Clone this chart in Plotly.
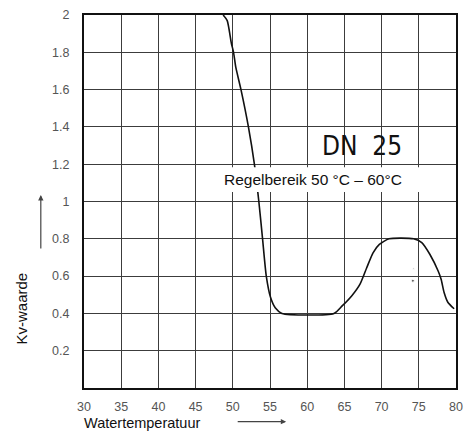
import plotly.graph_objects as go

# Data
temperature = [48.7, 49.25, 49.8, 50.1, 50.4, 51.1, 52.1, 52.9, 53.5, 54.0, 54.5,
               55.07, 55.7, 56.6, 63.6, 64.7, 66.0, 67.1, 68.0, 68.85, 69.7,
               71.0, 74.3, 75.4, 76.5, 77.6, 78.0, 78.4, 78.9, 79.75]
kv_value = [2.0, 1.97, 1.85, 1.8, 1.72, 1.6, 1.4, 1.2, 1.0, 0.8, 0.6,
            0.486, 0.43, 0.40, 0.40, 0.44, 0.495, 0.557, 0.645, 0.725, 0.77,
            0.80, 0.80, 0.78, 0.716, 0.627, 0.583, 0.512, 0.46, 0.425]

speck_x = [74.2, 74.3]
speck_y = [0.575, 0.64]

x_ticks = [30, 35, 40, 45, 50, 55, 60, 65, 70, 75, 80]
y_ticks = [0.2, 0.4, 0.6, 0.8, 1.0, 1.2, 1.4, 1.6, 1.8, 2.0]
y_tick_labels = ["0.2", "0.4", "0.6", "0.8", "1", "1.2", "1.4", "1.6", "1.8", "2"]

title_x = "Watertemperatuur"
title_y = "Kv-waarde"
label_dn = "DN\u00a0\u00a025"
label_range = "Regelbereik 50 °C – 60°C"

fig = go.Figure()
fig.add_trace(go.Scatter(
    x=temperature, y=kv_value, mode="lines",
    line=dict(color="#111111", width=1.6, shape="spline", smoothing=0.6),
    hoverinfo="skip", showlegend=False))
fig.add_trace(go.Scatter(
    x=speck_x, y=speck_y, mode="markers",
    marker=dict(color=["#222222", "#bbbbbb"], size=[3, 2]),
    hoverinfo="skip", showlegend=False))

W, H = 471, 431
L, R, T, B = 84, 8, 11, 43
pw = W - L - R
ph = H - T - B

def px(x):
    return (x - L) / pw

def py(y):
    return (H - B - y) / ph

fig.update_layout(
    width=W, height=H,
    margin=dict(l=L, r=R, t=T, b=B, pad=0),
    paper_bgcolor="white", plot_bgcolor="white",
    font=dict(family="Liberation Sans, Arial, sans-serif", color="#222222"),
    xaxis=dict(range=[30, 80], tickvals=x_ticks, showgrid=True,
               gridcolor="#3c3c3c", gridwidth=1.3, zeroline=False,
               showline=True, linecolor="#111111", linewidth=2, mirror=True,
               ticks="", ticklabelstandoff=6,
               tickfont=dict(size=12.5, color="#555555")),
    yaxis=dict(range=[0, 2], tickvals=y_ticks, ticktext=y_tick_labels,
               showgrid=True, gridcolor="#3c3c3c", gridwidth=1.3, zeroline=False,
               showline=True, linecolor="#111111", linewidth=2, mirror=True,
               ticks="", ticklabelstandoff=10,
               tickfont=dict(size=12.5, color="#555555")),
)

# white band behind the range label
fig.add_shape(type="rect", xref="paper", yref="paper",
              x0=px(222), x1=px(462), y0=py(190), y1=py(165),
              fillcolor="white", line=dict(width=0), layer="above")

fig.add_annotation(x=px(225), y=py(177.5), xref="paper", yref="paper",
                   text=label_range, showarrow=False, xanchor="left",
                   yanchor="middle",
                   font=dict(size=15.5, color="#111111",
                             family="Liberation Sans, Arial, sans-serif"))
fig.add_annotation(x=px(367.5), y=py(143), xref="paper", yref="paper",
                   text=label_dn, showarrow=False, xanchor="center",
                   yanchor="middle",
                   font=dict(size=26, color="#111111",
                             family="DejaVu Sans Condensed, Liberation Sans Narrow, sans-serif"))

# axis titles
fig.add_annotation(x=px(143.5), y=py(423), xref="paper", yref="paper",
                   text=title_x, showarrow=False, xanchor="center", yanchor="middle",
                   font=dict(size=14.5, color="#111111"))
fig.add_annotation(x=px(20), y=py(307.5), xref="paper", yref="paper",
                   text=title_y, showarrow=False, textangle=-90,
                   xanchor="center", yanchor="middle",
                   font=dict(size=15, color="#111111"))

# arrows
fig.add_annotation(x=px(40), y=py(193), xref="paper", yref="paper",
                   ax=0, ay=55, axref="pixel", ayref="pixel", text="",
                   showarrow=True, arrowhead=2, arrowsize=0.9, arrowwidth=1.2,
                   arrowcolor="#444444")
fig.add_annotation(x=px(290), y=py(422), xref="paper", yref="paper",
                   ax=-50, ay=0, axref="pixel", ayref="pixel", text="",
                   showarrow=True, arrowhead=2, arrowsize=0.9, arrowwidth=1.2,
                   arrowcolor="#444444")

fig.write_html(
    "out.html",
    config={"displayModeBar": False},
    post_script="document.body.style.margin='0';document.body.style.overflow='hidden';",
)
